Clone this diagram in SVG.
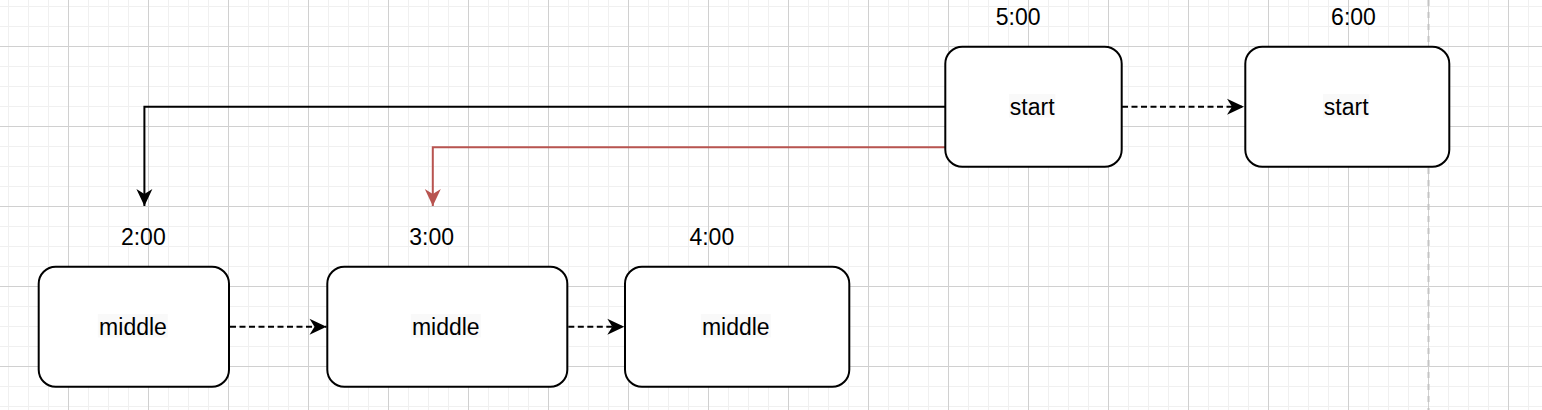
<svg xmlns="http://www.w3.org/2000/svg" width="1542" height="410" viewBox="0 0 1542 410">
  <style>
    .node { fill: #ffffff; stroke: #000000; stroke-width: 2; }
    .lbl { font-family: "Liberation Sans", Arial, sans-serif; font-size: 23px; fill: #000000; text-anchor: middle; }
    .lblbg { fill: #f9f9f9; stroke: none; }
    .edge { fill: none; stroke: #000000; stroke-width: 2; }
    .dash { stroke-dasharray: 6 3.5; }
    .red { stroke: #b85450; }
  </style>
  <defs>
    <pattern id="minor" patternUnits="userSpaceOnUse" x="8" y="6" width="20" height="20">
      <path d="M0.5 0V20M0 0.5H20" stroke="#f0f0f0" stroke-width="1" fill="none"/>
    </pattern>
    <pattern id="major" patternUnits="userSpaceOnUse" x="68" y="46" width="80" height="80">
      <path d="M0.5 0V80M0 0.5H80" stroke="#d0d0d0" stroke-width="1" fill="none"/>
    </pattern>
    <marker id="arr" markerUnits="userSpaceOnUse" viewBox="-18 -9 19 18" refX="0" refY="0" markerWidth="19" markerHeight="18" orient="auto">
      <path d="M0 0L-17 -8L-12 0L-17 8Z" fill="#000000"/>
    </marker>
    <marker id="arrRed" markerUnits="userSpaceOnUse" viewBox="-18 -9 19 18" refX="0" refY="0" markerWidth="19" markerHeight="18" orient="auto">
      <path d="M0 0L-17 -8L-12 0L-17 8Z" fill="#b85450"/>
    </marker>
  </defs>

  <g id="background">
    <rect x="0" y="0" width="1542" height="410" fill="#ffffff"/>
    <rect x="0" y="0" width="1542" height="410" fill="url(#minor)"/>
    <rect x="0" y="0" width="1542" height="410" fill="url(#major)"/>
    <line x1="1428.5" y1="0" x2="1428.5" y2="410" stroke="#c4c4c4" stroke-width="2" stroke-dasharray="6 6"/>
  </g>

  <g id="connectors">
    <path class="edge" d="M945 106.7H144.4V206" marker-end="url(#arr)"/>
    <path class="edge red" d="M945 147.3H432.8V206" marker-end="url(#arrRed)"/>
    <path class="edge dash" d="M1122 106.7H1244" marker-end="url(#arr)"/>
    <path class="edge dash" d="M230 326.7H326.5" marker-end="url(#arr)"/>
    <path class="edge dash" d="M568.3 326.7H624.3" marker-end="url(#arr)"/>
  </g>

  <g id="node-5">
    <rect class="node" x="945.3" y="46.8" width="176.4" height="120" rx="17" ry="17"/>
    <text class="lbl" x="1018.2" y="25.3">5:00</text>
    <rect class="lblbg" x="1009" y="94" width="46.3" height="23.5"/>
    <text class="lbl" x="1032.2" y="115">start</text>
  </g>

  <g id="node-6">
    <rect class="node" x="1245.3" y="46.8" width="204" height="120" rx="17" ry="17"/>
    <text class="lbl" x="1353.5" y="25.3">6:00</text>
    <rect class="lblbg" x="1323" y="94" width="46.3" height="23.5"/>
    <text class="lbl" x="1346.2" y="115">start</text>
  </g>

  <g id="node-2">
    <rect class="node" x="38.7" y="266.8" width="190.3" height="120" rx="17" ry="17"/>
    <text class="lbl" x="143.3" y="245.3">2:00</text>
    <rect class="lblbg" x="97.8" y="314" width="70" height="23.5"/>
    <text class="lbl" x="133" y="335">middle</text>
  </g>

  <g id="node-3">
    <rect class="node" x="327.3" y="266.8" width="240" height="120" rx="17" ry="17"/>
    <text class="lbl" x="431.7" y="245.3">3:00</text>
    <rect class="lblbg" x="410.8" y="314" width="70" height="23.5"/>
    <text class="lbl" x="445.8" y="335">middle</text>
  </g>

  <g id="node-4">
    <rect class="node" x="625" y="266.8" width="224.3" height="120" rx="17" ry="17"/>
    <text class="lbl" x="711.8" y="245.3">4:00</text>
    <rect class="lblbg" x="700.8" y="314" width="70" height="23.5"/>
    <text class="lbl" x="735.8" y="335">middle</text>
  </g>
</svg>
